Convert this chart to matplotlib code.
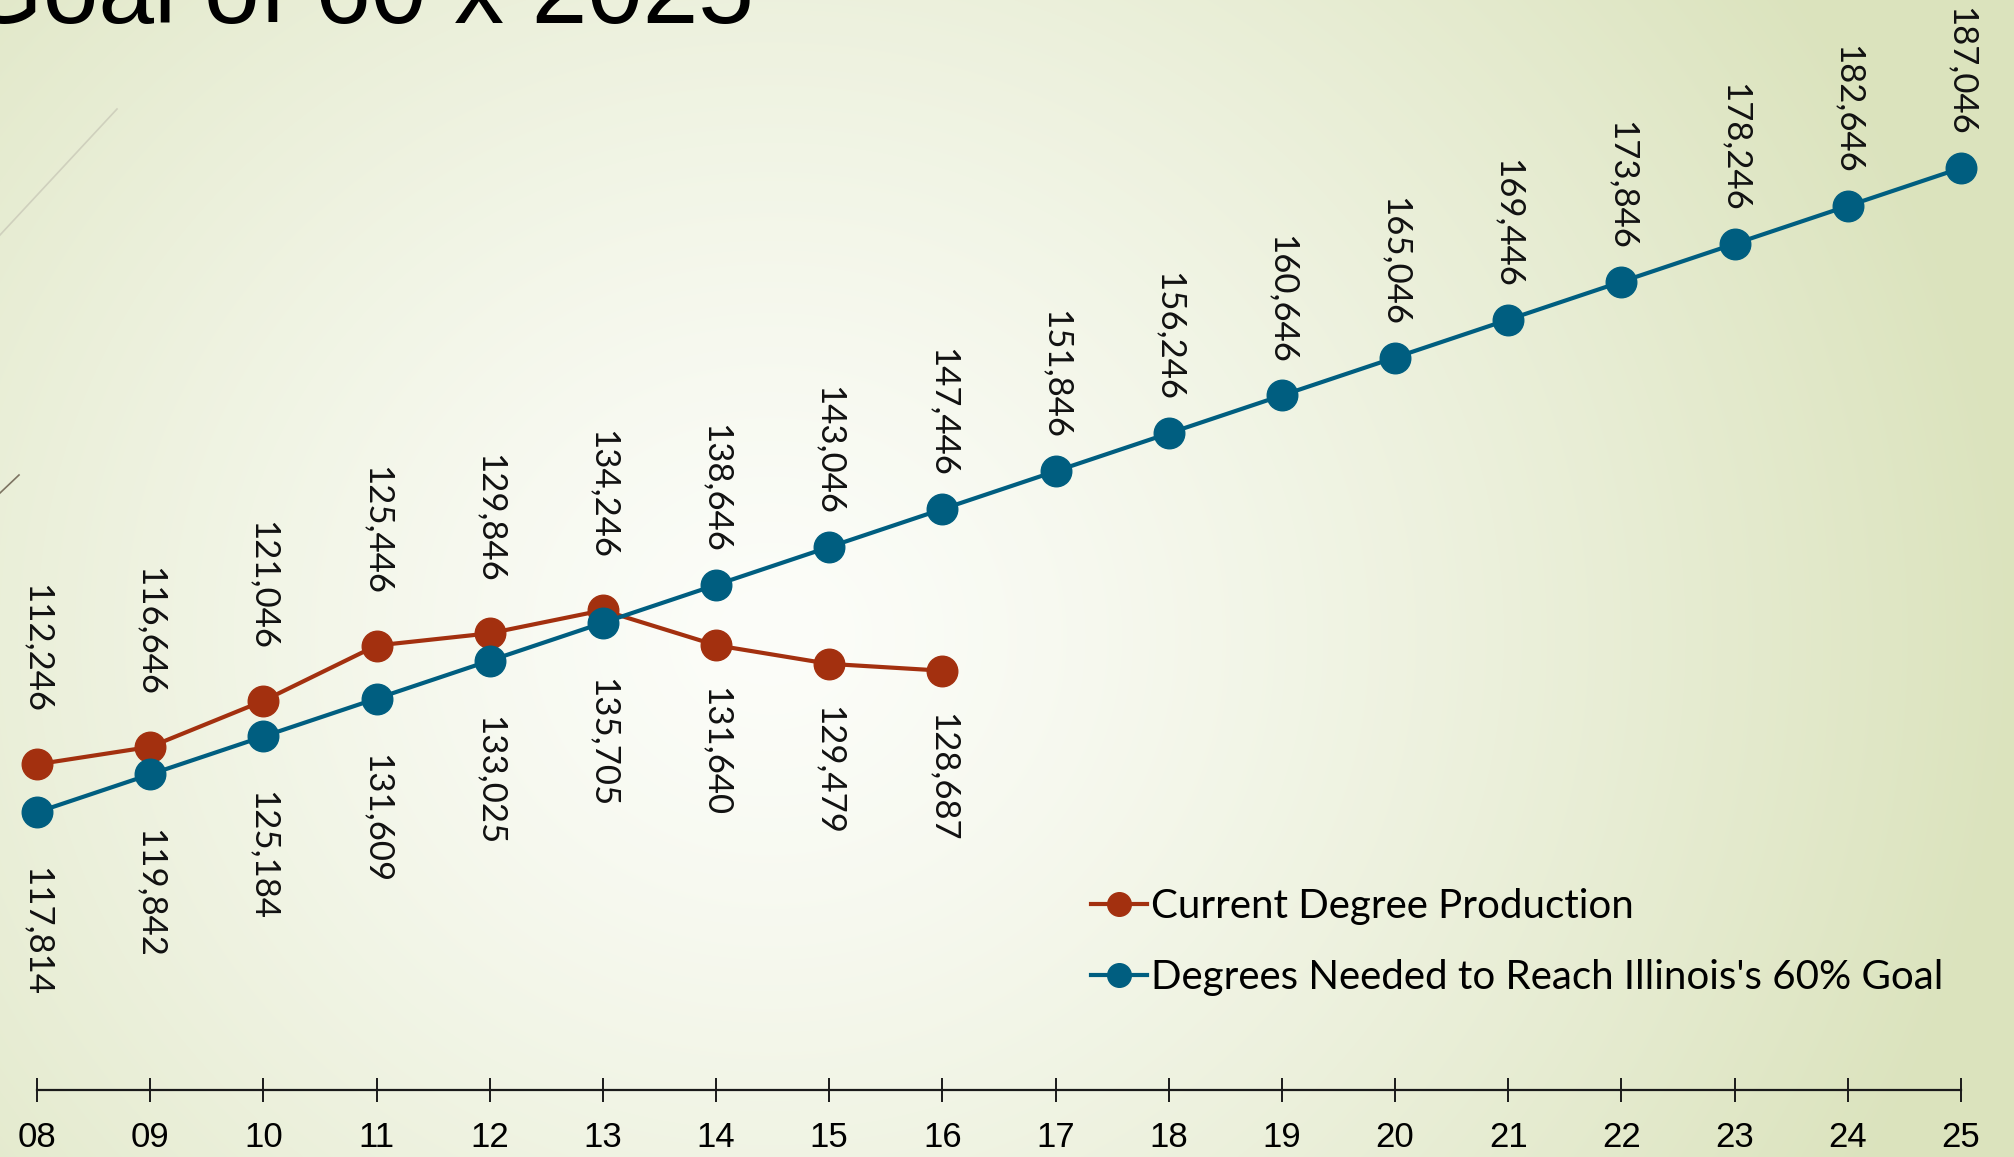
import numpy as np
import matplotlib
matplotlib.use("Agg")
import matplotlib.pyplot as plt
from matplotlib.lines import Line2D
from matplotlib.colors import to_rgb

# Data
years = ["08", "09", "10", "11", "12", "13", "14", "15", "16",
         "17", "18", "19", "20", "21", "22", "23", "24", "25"]
current = [117814, 119842, 125184, 131609, 133025, 135705, 131640, 129479, 128687]
needed = [112246, 116646, 121046, 125446, 129846, 134246, 138646, 143046, 147446,
          151846, 156246, 160646, 165046, 169446, 173846, 178246, 182646, 187046]

title = "Goal of 60 x 2025"
current_label = "Current Degree Production"
needed_label = "Degrees Needed to Reach Illinois's 60% Goal"

red = "#a3300f"
blue = "#005e80"

W, H = 2015, 1157
fig = plt.figure(figsize=(W / 100, H / 100), dpi=100)

# Background radial gradient
bg = fig.add_axes([0, 0, 1, 1], zorder=-10)
gx, gy = np.meshgrid(np.arange(W), np.arange(H))
d = np.sqrt(((gx - 770) / 1250.0) ** 2 + ((gy - 520) / 1150.0) ** 2)
d = np.clip(d, 0, 1) ** 1.3
c0 = np.array(to_rgb("#fcfdf9"))
c1 = np.array(to_rgb("#dbe3bd"))
img = c0[None, None, :] * (1 - d[..., None]) + c1[None, None, :] * d[..., None]
bg.imshow(img, origin="lower", extent=[0, 1, 0, 1], aspect="auto")
bg.set_axis_off()

# Decorative thin lines on the left
fig.add_artist(Line2D([0, 117 / W], [1 - 235 / H, 1 - 109 / H],
                      transform=fig.transFigure, color="#cfd0bd", lw=1.2))
fig.add_artist(Line2D([0, 19 / W], [1 - 493 / H, 1 - 475 / H],
                      transform=fig.transFigure, color="#7d7462", lw=1.2))

# Title (cut off at the top, as in the slide)
fig.text(-35 / W, 1 - 23 / H, title, fontsize=72, family=["Liberation Sans", "DejaVu Sans"],
         va="baseline", ha="left", color="black")

# Main axes
ax = fig.add_axes([37 / W, 1 - 1090 / H, (1961 - 37) / W, (1090 - 56.5) / H])
ax.patch.set_alpha(0)
x_all = np.arange(len(years))
x_cur = np.arange(len(current))
ax.set_xlim(0, len(years) - 1)
ax.set_ylim(80000, 200000)

ax.plot(x_cur, current, "-o", color=red, lw=3, ms=22, clip_on=False, zorder=3)
ax.plot(x_all, needed, "-o", color=blue, lw=3, ms=22, clip_on=False, zorder=4)

for s in ["top", "right", "left"]:
    ax.spines[s].set_visible(False)
ax.spines["bottom"].set_linewidth(1.6)
ax.spines["bottom"].set_color("#1a1a1a")
ax.set_yticks([])
ax.set_xticks(x_all)
ax.set_xticklabels(years)
ax.tick_params(axis="x", direction="inout", length=17, width=1.4, color="#1a1a1a",
               pad=14, labelsize=25)
for t in ax.get_xticklabels():
    t.set_family(["Liberation Sans", "DejaVu Sans"])

# Data labels, rotated
lab_font = ["Lato", "DejaVu Sans"]
px2pt = 72.0 / 100
to_px = ax.transData.transform
for i, v in enumerate(needed):
    by = to_px((i, v))[1]
    off = 32
    if i < len(current):
        ry = to_px((i, current[i]))[1]
        off = max(off, ry - by + 51)
    ax.annotate(f"{v:,}", xy=(i, v), xytext=(0, off * px2pt), textcoords="offset points",
                rotation=270, ha="center", va="bottom", fontsize=25, family=lab_font,
                color="#111111", annotation_clip=False)
for i, v in enumerate(current):
    ry = to_px((i, v))[1]
    by = to_px((i, needed[i]))[1]
    off = max(ry - by + 55, 42)
    ax.annotate(f"{v:,}", xy=(i, v), xytext=(0, -off * px2pt), textcoords="offset points",
                rotation=270, ha="center", va="top", fontsize=25, family=lab_font,
                color="#111111", annotation_clip=False)

# Legend
handles = [Line2D([], [], color=red, marker="o", lw=3, ms=17, label=current_label),
           Line2D([], [], color=blue, marker="o", lw=3, ms=17, label=needed_label)]
leg = ax.legend(handles=handles, loc="upper left", bbox_to_anchor=(1091 / W, 1 - 888 / H),
                bbox_transform=fig.transFigure, frameon=False, borderpad=0, borderaxespad=0,
                handlelength=1.4, handletextpad=0.1, labelspacing=0.85,
                prop={"family": ["Lato", "DejaVu Sans"], "size": 29})

fig.savefig("out.png", dpi=100)
